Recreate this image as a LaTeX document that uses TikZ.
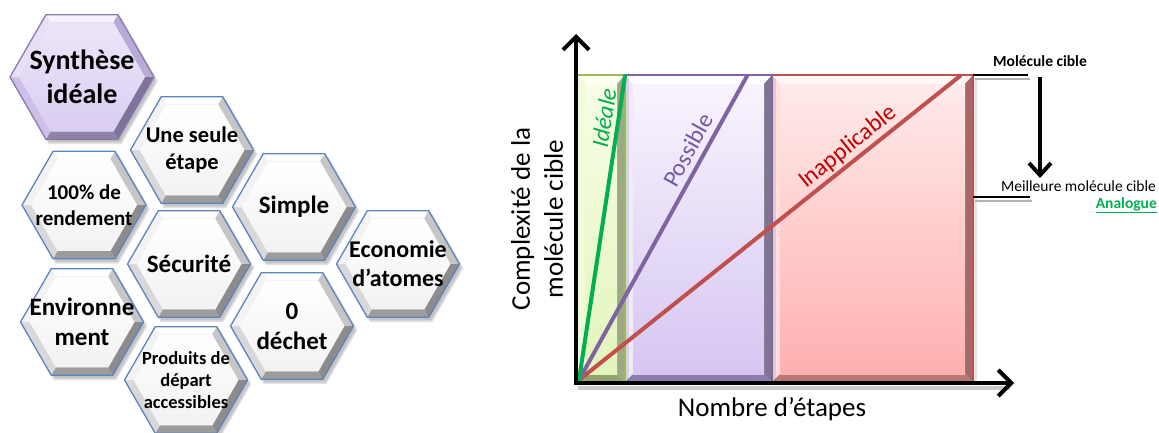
\documentclass[tikz,border=0pt]{standalone}
\usepackage{fontspec}
\setmainfont{Carlito}
\usetikzlibrary{arrows.meta}
% hexagon palettes
\definecolor{wT}{HTML}{FFFFFF}\definecolor{wUL}{HTML}{F3F3F3}\definecolor{wLL}{HTML}{D8D8D8}
\definecolor{wB}{HTML}{9C9C9C}\definecolor{wLR}{HTML}{8C8C8C}\definecolor{wUR}{HTML}{C6C6C6}
\definecolor{wFA}{HTML}{FFFFFF}\definecolor{wFB}{HTML}{F2F2F2}\definecolor{wL}{HTML}{5A86BF}
\definecolor{pT}{HTML}{F7F2FF}\definecolor{pUL}{HTML}{E9E0F8}\definecolor{pLL}{HTML}{CDBFE8}
\definecolor{pB}{HTML}{9083AA}\definecolor{pLR}{HTML}{807399}\definecolor{pUR}{HTML}{BAAAD6}
\definecolor{pFA}{HTML}{EDE5FA}\definecolor{pFB}{HTML}{DACDF1}\definecolor{pL}{HTML}{8A7AAE}
% rectangle palettes
\definecolor{gT}{HTML}{FCFFF2}\definecolor{gLe}{HTML}{F0F9D8}\definecolor{gR}{HTML}{9DA885}
\definecolor{gB}{HTML}{93A36E}\definecolor{gFA}{HTML}{F8FDE6}\definecolor{gFB}{HTML}{E2F5BC}\definecolor{gL}{HTML}{9BBB59}
\definecolor{uT}{HTML}{FFFFFF}\definecolor{uLe}{HTML}{EFE9FA}\definecolor{uR}{HTML}{7E7592}
\definecolor{uB}{HTML}{8B7DAA}\definecolor{uFA}{HTML}{F8F4FD}\definecolor{uFB}{HTML}{D6C6F2}\definecolor{uL}{HTML}{8064A2}
\definecolor{rT}{HTML}{FFF6F6}\definecolor{rLe}{HTML}{FFDEDE}\definecolor{rR}{HTML}{A46A6A}
\definecolor{rB}{HTML}{B87777}\definecolor{rFA}{HTML}{FFEAEA}\definecolor{rFB}{HTML}{FFB0B0}\definecolor{rL}{HTML}{C0504D}
\definecolor{lineGreen}{HTML}{00B050}\definecolor{linePurple}{HTML}{8064A2}\definecolor{lineRed}{HTML}{C0504D}
\definecolor{txtPurple}{HTML}{7458A0}\definecolor{txtRed}{HTML}{C00000}

\newcommand{\hexcell}[6]{%
 \begin{scope}[shift={#2}]
  \pgfmathsetmacro{\hri}{#3-9}
  \begin{scope}[shift={(3,4)}]
   \fill[black,opacity=0.12] (0:#3+1)--(60:#3+1)--(120:#3+1)--(180:#3+1)--(240:#3+1)--(300:#3+1)--cycle;
   \fill[black,opacity=0.12] (0:#3-1)--(60:#3-1)--(120:#3-1)--(180:#3-1)--(240:#3-1)--(300:#3-1)--cycle;
  \end{scope}
  \fill[#4T] (240:#3)--(300:#3)--(300:\hri)--(240:\hri)--cycle;
  \fill[#4UR] (300:#3)--(360:#3)--(0:\hri)--(300:\hri)--cycle;
  \fill[#4LR] (0:#3)--(60:#3)--(60:\hri)--(0:\hri)--cycle;
  \fill[#4B] (60:#3)--(120:#3)--(120:\hri)--(60:\hri)--cycle;
  \fill[#4LL] (120:#3)--(180:#3)--(180:\hri)--(120:\hri)--cycle;
  \fill[#4UL] (180:#3)--(240:#3)--(240:\hri)--(180:\hri)--cycle;
  \shade[top color=#4FA,bottom color=#4FB] (0:\hri)--(60:\hri)--(120:\hri)--(180:\hri)--(240:\hri)--(300:\hri)--cycle;
  \draw[#4L,line width=1.3,line join=round] (0:#3)--(60:#3)--(120:#3)--(180:#3)--(240:#3)--(300:#3)--cycle;
  \node[hextext,font=#5] (#1) at (0,0) {#6};
 \end{scope}}

\newcommand{\bevelrect}[3]{%
  \fill[black,opacity=0.10] (#1+3,78) rectangle (#2+4,385);
  \fill[#3T] (#1,75)--(#2,75)--(#2-8,84)--(#1+8,84)--cycle;
  \fill[#3Le] (#1,75)--(#1+8,84)--(#1+8,374)--(#1,382)--cycle;
  \fill[#3R] (#2,75)--(#2,382)--(#2-8,374)--(#2-8,84)--cycle;
  \fill[#3B] (#1,382)--(#2,382)--(#2-8,374)--(#1+8,374)--cycle;
  \shade[top color=#3FA,bottom color=#3FB] (#1+8,84) rectangle (#2-8,374);
  \draw[#3L,line width=1.6] (#1,75) rectangle (#2,382);}

\tikzset{
  hextext/.style={align=center,text=black,inner sep=0pt},
  axisline/.style={line width=4pt,-{Straight Barb[length=13pt,width=26pt]},line cap=butt},
  diag/.style={line width=4pt,line cap=round},
  tickline/.style={line width=2pt,black},
  axlabel/.style={font=\fontsize{27}{33}\selectfont,align=center,inner sep=0pt},
  slopelabel/.style={font=\fontsize{24}{28}\selectfont,inner sep=0pt},
  sidelabel/.style={font=\fontsize{15.5}{18}\selectfont,inner sep=0pt}
}

\begin{document}
\begin{tikzpicture}[x=1pt,y=-1pt]
\useasboundingbox (0,0) rectangle (1159,432);
\fill[white] (0,0) rectangle (1159,432);

% ---------- hexagons ----------
\hexcell{synth}{(82,77)}{72}{p}{\bfseries\fontsize{28}{34}\selectfont}{Synthèse\\idéale}
\hexcell{seule}{(192,150)}{61.5}{w}{\bfseries\fontsize{22.5}{27}\selectfont}{Une seule\\étape}
\hexcell{rend}{(84,205)}{62}{w}{\bfseries\fontsize{21}{26}\selectfont}{100\% de\\rendement}
\hexcell{simple}{(294,207)}{61.5}{w}{\bfseries\fontsize{25}{30}\selectfont}{Simple}
\hexcell{secu}{(189,264)}{61.5}{w}{\bfseries\fontsize{25}{30}\selectfont}{Sécurité}
\hexcell{eco}{(398,264)}{61.5}{w}{\bfseries\fontsize{24}{29}\selectfont}{Economie\\d’atomes}
\hexcell{env}{(82,322)}{61.5}{w}{\bfseries\fontsize{25}{30}\selectfont}{Environne\\ment}
\hexcell{dechet}{(292,326)}{61.5}{w}{\bfseries\fontsize{25}{30}\selectfont}{0\\déchet}
\hexcell{prod}{(186,380)}{61.5}{w}{\bfseries\fontsize{18.5}{22}\selectfont}{Produits de\\départ\\accessibles}

% ---------- chart ----------
\bevelrect{772}{973}{r}
\bevelrect{625}{772}{u}
\bevelrect{577}{625}{g}

\coordinate (O) at (576,383);
\coordinate (Oyb) at (576,385);
\coordinate (ytop) at (576,34);
\coordinate (Oxb) at (574,383);
\coordinate (xend) at (1014,383);
\coordinate (D0) at (579,380);
\coordinate (Dg) at (625,76);
\coordinate (Dp) at (747,76);
\coordinate (Dr) at (960,76);

\draw[diag,lineRed] (D0) -- (Dr);
\draw[diag,linePurple] (D0) -- (Dp);
\draw[diag,lineGreen] (D0) -- (Dg);

\draw[black!40,opacity=0.5,line width=4pt] (578,388) -- (1010,388);
\draw[axisline] (Oyb) -- (ytop);
\draw[axisline] (Oxb) -- (xend);

\node[slopelabel,text=lineGreen,font=\itshape\fontsize{24}{28}\selectfont,rotate=81] (lidl) at (604,118) {Idéale};
\node[slopelabel,text=txtPurple,rotate=61] (lpos) at (688,150) {Possible};
\node[slopelabel,text=txtRed,rotate=38.7] (linap) at (848,147) {Inapplicable};

\node[axlabel,rotate=90] (ylab) at (537,219) {Complexité de la\\molécule cible};
\node[axlabel] (xlab) at (772,409) {Nombre d’étapes};

% ---------- right annotations ----------
\coordinate (mcA) at (973,75);
\coordinate (mcB) at (1028,75);
\coordinate (mmA) at (973,197);
\coordinate (mmB) at (1030,197);
\coordinate (arT) at (1040,77);
\coordinate (arB) at (1040,178);
\draw[black!30,line width=2pt] (975,79) -- (1030,79);
\draw[black!30,line width=2pt] (975,201) -- (1032,201);
\draw[tickline] (mcA) -- (mcB);
\draw[tickline] (mmA) -- (mmB);
\draw[line width=4pt,-{Straight Barb[length=12pt,width=22pt]}] (arT) -- (arB);
\node[sidelabel,font=\bfseries\fontsize{15.5}{18}\selectfont] (mc) at (1040,61) {Molécule cible};
\node[sidelabel,anchor=base east] (mm) at (1156,191) {Meilleure molécule cible};
\node[sidelabel,anchor=base east,text=lineGreen,font=\bfseries\fontsize{15.5}{18}\selectfont] (ana) at (1157,208) {\underline{Analogue}};
\end{tikzpicture}
\end{document}
